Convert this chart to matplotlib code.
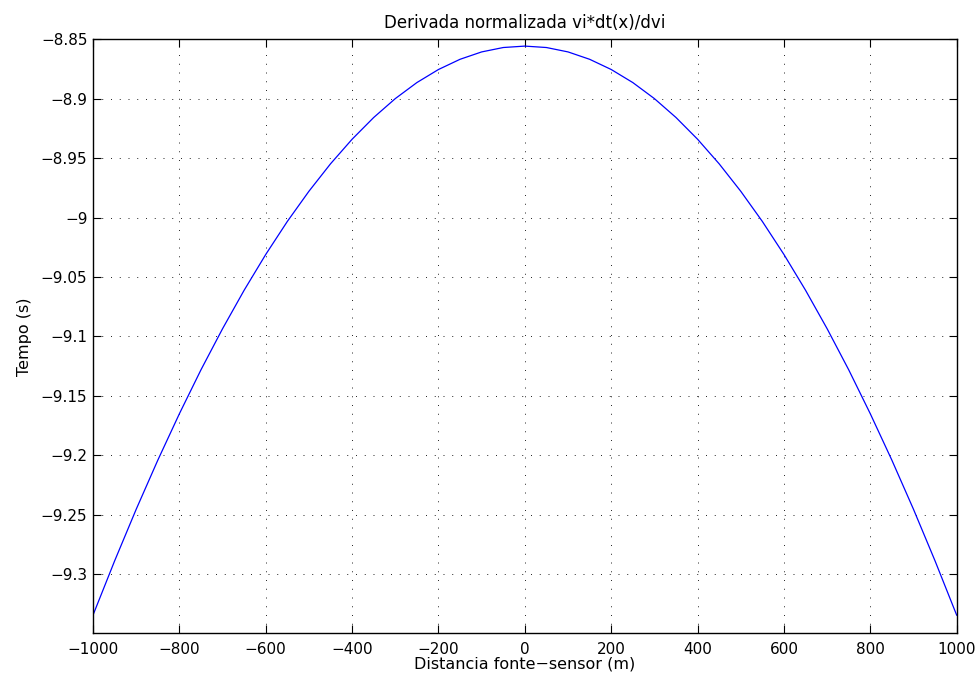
import matplotlib.pyplot as plt
import numpy as np

plt.rcParams['font.family'] = ['DejaVu Sans']

# distance fonte-sensor (m) and normalized derivative (s)
dist = [-1000, -950, -900, -850, -800, -750, -700, -650, -600, -550, -500,
        -450, -400, -350, -300, -250, -200, -150, -100, -50, 0,
        50, 100, 150, 200, 250, 300, 350, 400, 450, 500,
        550, 600, 650, 700, 750, 800, 850, 900, 950, 1000]
deriv = [-9.3347, -9.2891, -9.2456, -9.2043, -9.1652, -9.1282, -9.0936, -9.0612, -9.0311, -9.0033, -8.9779,
         -8.9548, -8.9341, -8.9158, -8.8999, -8.8864, -8.8754, -8.8668, -8.8606, -8.8569, -8.8557,
         -8.8569, -8.8606, -8.8668, -8.8754, -8.8864, -8.8999, -8.9158, -8.9341, -8.9548, -8.9779,
         -9.0033, -9.0311, -9.0612, -9.0936, -9.1282, -9.1652, -9.2043, -9.2456, -9.2891, -9.3347]
yticks = [-9.3, -9.25, -9.2, -9.15, -9.1, -9.05, -9, -8.95, -8.9, -8.85]
ytick_labels = ['\u22129.3', '\u22129.25', '\u22129.2', '\u22129.15', '\u22129.1',
                '\u22129.05', '\u22129', '\u22128.95', '\u22128.9', '\u22128.85']
xticks = np.arange(-1000, 1001, 200)

fig = plt.figure(figsize=(9.8, 6.78), dpi=100)
ax = fig.add_axes([0.0949, 0.0659, 0.8813, 0.8761])

ax.plot(dist, deriv, color='#0000ff', linewidth=0.9)

ax.set_xlim(-1000, 1000)
ax.set_ylim(-9.35, -8.85)
ax.set_xticks(xticks)
ax.set_xticklabels([str(v).replace('-', '\u2212') for v in xticks])
ax.set_yticks(yticks)
ax.set_yticklabels(ytick_labels)

ax.grid(True, color='#222222', linestyle=(0, (1, 8)), linewidth=0.7)
ax.tick_params(direction='in', length=6, width=0.8, labelsize=11,
               top=True, right=True, colors='black')
ax.tick_params(axis='x', pad=6)
ax.tick_params(axis='y', pad=4)
for s in ax.spines.values():
    s.set_linewidth(1.0)

ax.set_title('Derivada normalizada vi*dt(x)/dvi', fontsize=12, pad=8)
ax.set_xlabel('Distancia fonte\u2212sensor (m)', fontsize=11.5, labelpad=0)
ax.set_ylabel('Tempo (s)', fontsize=11.5, labelpad=6)

fig.savefig('out.png', dpi=100)
